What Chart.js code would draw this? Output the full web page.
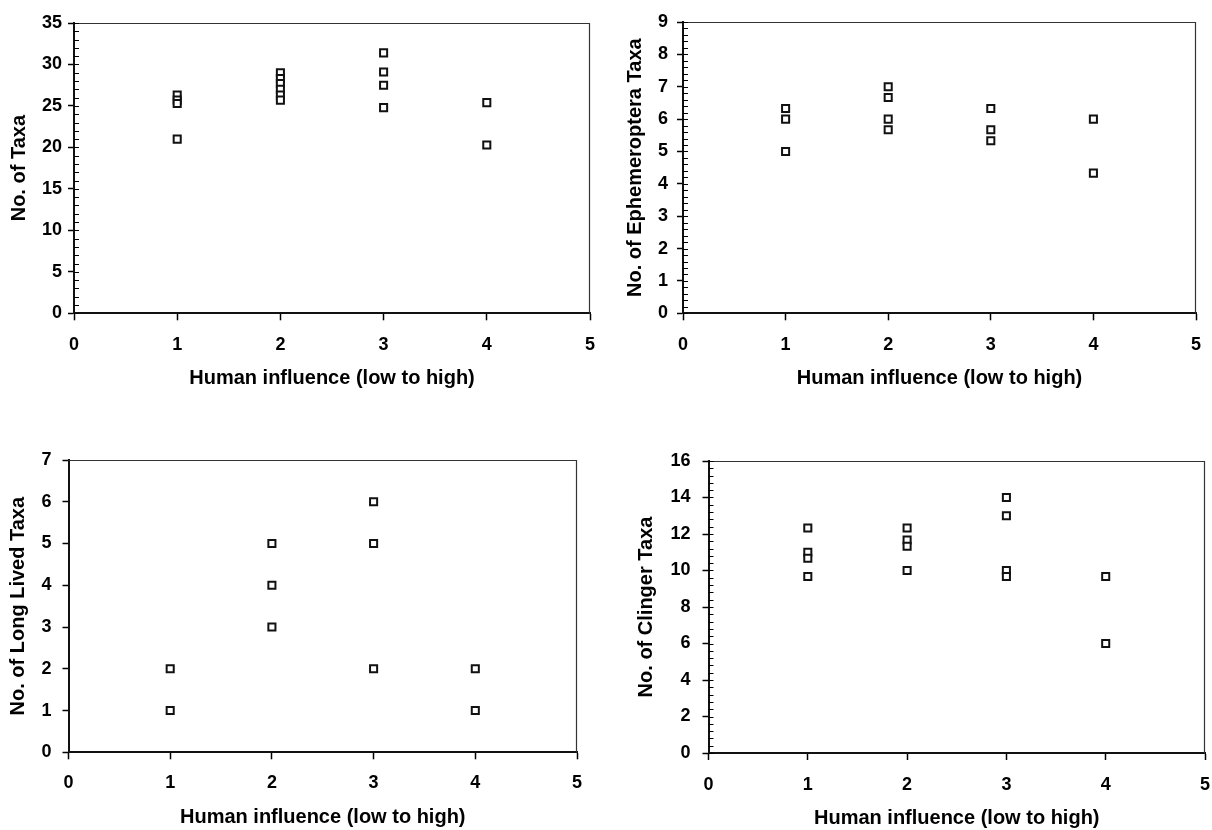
<!DOCTYPE html>
<html>
<head>
<meta charset="utf-8">
<script src="https://cdn.jsdelivr.net/npm/chart.js@4.4.1/dist/chart.umd.min.js"></script>
<style>
  body { margin: 0; background: #fff; overflow: hidden; }
  .panel { position: absolute; }
</style>
</head>
<body>
<div class="panel" style="left:0;top:0"><canvas id="c1" width="630" height="410"></canvas></div>
<div class="panel" style="left:606px;top:0"><canvas id="c2" width="630" height="410"></canvas></div>
<div class="panel" style="left:0;top:410px"><canvas id="c3" width="630" height="420"></canvas></div>
<div class="panel" style="left:606px;top:410px"><canvas id="c4" width="630" height="420"></canvas></div>
<script>
// x categories (human influence level) and the values seen at each level
const influence = [1, 2, 3, 4];
const allTaxa = [[26.3, 25.7, 25.3, 21.0], [29.0, 28.3, 27.7, 27.0, 26.3, 25.7], [31.4, 29.1, 27.5, 24.8], [25.4, 20.3]];
const ephemeropteraTaxa = [[6.33, 6.0, 5.0], [7.0, 6.67, 6.0, 5.67], [6.33, 5.67, 5.33], [6.0, 4.33]];
const longLivedTaxa = [[2, 1], [5, 4, 3], [6, 5, 2], [2, 1]];
const clingerTaxa = [[12.33, 11.0, 10.67, 9.67], [12.33, 11.67, 11.33, 10.0], [14.0, 13.0, 10.0, 9.67], [9.67, 6.0]];
const xTitle = 'Human influence (low to high)';

const FONT = "'Liberation Sans', Arial, sans-serif";

function toPoints(groups) {
  const pts = [];
  groups.forEach((g, i) => g.forEach(v => pts.push({ x: influence[i], y: v })));
  return pts;
}

// thin frame on top/right + small inside minor ticks on the y axis
const framePlugin = {
  id: 'frame',
  afterDatasetsDraw(chart, args, opts) {
    const { ctx, chartArea: a, scales: { y } } = chart;
    ctx.save();
    ctx.strokeStyle = '#333';
    ctx.lineWidth = 1.2;
    ctx.beginPath();
    ctx.moveTo(a.left, a.top + 0.5);
    ctx.lineTo(a.right - 0.5, a.top + 0.5);
    ctx.lineTo(a.right - 0.5, a.bottom);
    ctx.stroke();
    if (opts.minor) {
      ctx.strokeStyle = '#000';
      ctx.lineWidth = 1;
      ctx.beginPath();
      for (let v = y.min; v <= y.max + 1e-9; v += opts.minor) {
        const py = Math.round(y.getPixelForValue(v)) + 0.5;
        ctx.moveTo(a.left, py);
        ctx.lineTo(a.left + 5, py);
      }
      ctx.stroke();
    }
    ctx.restore();
  }
};

function makeChart(id, groups, yTitle, yMax, yStep, minor, L) {
  const canvas = document.getElementById(id);
  return new Chart(canvas, {
    type: 'scatter',
    data: {
      datasets: [{
        data: toPoints(groups),
        pointStyle: 'rect',
        pointRadius: 5,
        pointHoverRadius: 5,
        borderWidth: 2,
        borderColor: '#111',
        backgroundColor: '#fff'
      }]
    },
    options: {
      responsive: false,
      animation: false,
      devicePixelRatio: 1,
      layout: { padding: { left: 0, top: L.top, right: canvas.width - L.right, bottom: 0 } },
      plugins: {
        legend: { display: false },
        tooltip: { enabled: false },
        frame: { minor: minor }
      },
      scales: {
        x: {
          type: 'linear', min: 0, max: 5,
          ticks: { stepSize: 1, color: '#000', padding: L.xTickPad, font: { family: FONT, size: 18, weight: 'bold' } },
          grid: { drawOnChartArea: false, drawTicks: true, tickLength: 7, color: '#000', tickWidth: 1.5 },
          border: { display: true, color: '#111', width: 2 },
          title: { display: true, text: xTitle, color: '#000', padding: { top: 0, bottom: L.xTitlePad }, font: { family: FONT, size: 20, weight: 'bold' } },
          afterFit: s => { s.height = canvas.height - L.bottom; }
        },
        y: {
          type: 'linear', min: 0, max: yMax,
          ticks: { stepSize: yStep, color: '#000', padding: L.yTickPad, font: { family: FONT, size: 18, weight: 'bold' } },
          grid: { drawOnChartArea: false, drawTicks: true, tickLength: 6, color: '#000', tickWidth: 1.5 },
          border: { display: true, color: '#111', width: 2 },
          title: { display: true, text: yTitle, color: '#000', padding: { top: L.yTitlePad, bottom: 0 }, font: { family: FONT, size: 20, weight: 'bold' } },
          afterFit: s => { s.width = L.left; }
        }
      }
    },
    plugins: [framePlugin]
  });
}

makeChart('c1', allTaxa, 'No. of Taxa', 35, 5, 1,
  { left: 74, right: 590, top: 23, bottom: 313.3, xTickPad: 14, xTitlePad: 20, yTickPad: 6, yTitlePad: 7 });
makeChart('c2', ephemeropteraTaxa, 'No. of Ephemeroptera Taxa', 9, 1, 0.2,
  { left: 77, right: 590, top: 22, bottom: 313.3, xTickPad: 14, xTitlePad: 20, yTickPad: 9, yTitlePad: 17 });
makeChart('c3', longLivedTaxa, 'No. of Long Lived Taxa', 7, 1, 0,
  { left: 68.5, right: 577, top: 50, bottom: 342.3, xTickPad: 13, xTitlePad: 1, yTickPad: 11, yTitlePad: 6 });
makeChart('c4', clingerTaxa, 'No. of Clinger Taxa', 16, 2, 0.4,
  { left: 102.5, right: 599, top: 51, bottom: 343, xTickPad: 14, xTitlePad: 0, yTickPad: 12, yTitlePad: 28 });
</script>
</body>
</html>
